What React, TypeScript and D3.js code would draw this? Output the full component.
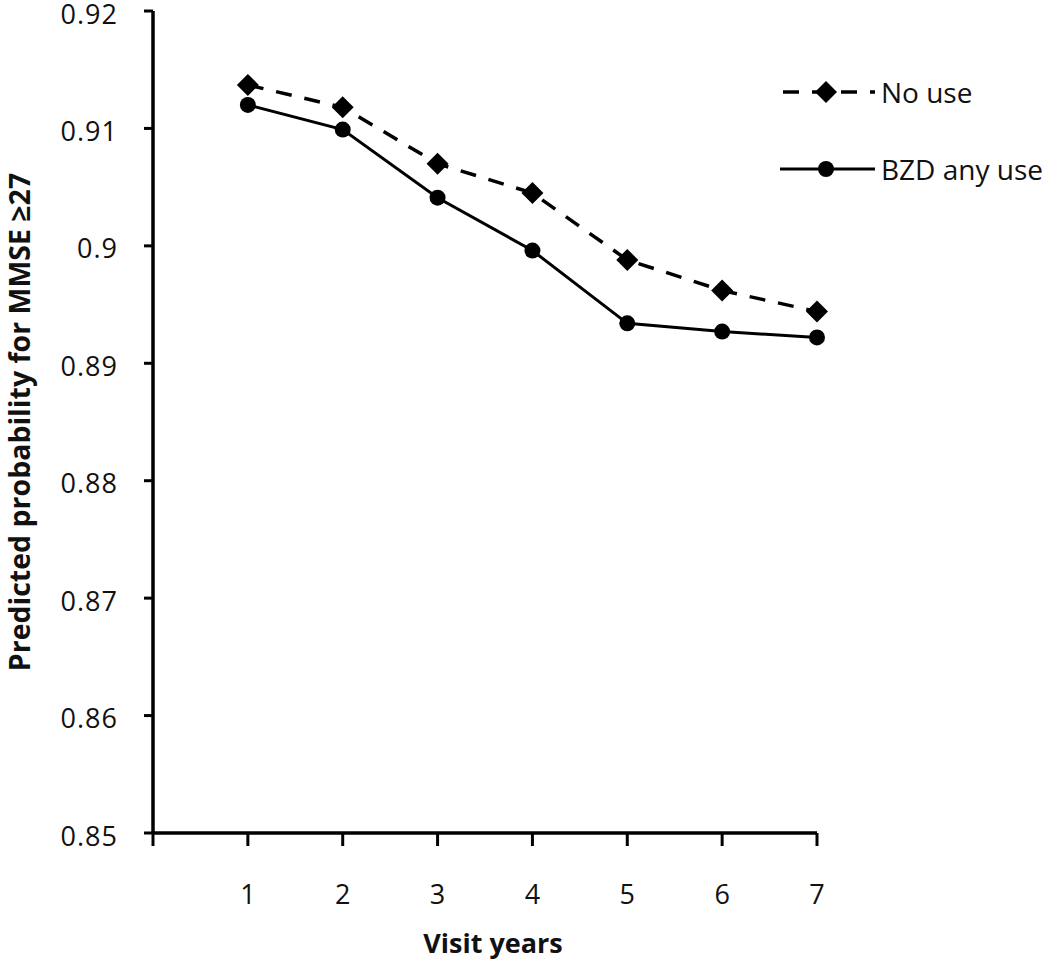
import React from "react";
import * as d3 from "d3";

const years = [1, 2, 3, 4, 5, 6, 7];
const noUse = [0.9137, 0.9118, 0.907, 0.9045, 0.8988, 0.8962, 0.8944];
const bzdAnyUse = [0.912, 0.9099, 0.9041, 0.8996, 0.8934, 0.8927, 0.8922];
const yTicks = [0.85, 0.86, 0.87, 0.88, 0.89, 0.9, 0.91, 0.92];
const yTickLabels = ["0.85", "0.86", "0.87", "0.88", "0.89", "0.9", "0.91", "0.92"];
const xTicks = [0, 1, 2, 3, 4, 5, 6, 7];
const seriesNames = ["No use", "BZD any use"];

const W = 1050;
const H = 963;
const FONT = "'Open Sans', 'Noto Sans', sans-serif";

export default function App() {
  const x = d3.scaleLinear().domain([0, 7]).range([153, 817]);
  const y = d3.scaleLinear().domain([0.85, 0.92]).range([833, 11]);
  const line = d3
    .line<number>()
    .x((_, i) => x(years[i]))
    .y((d) => y(d));

  const diamond = (cx: number, cy: number, r: number) =>
    `M${cx},${cy - r}L${cx + r},${cy}L${cx},${cy + r}L${cx - r},${cy}Z`;

  return (
    <svg
      width={W}
      height={H}
      style={{ position: "absolute", left: 0, top: 0, background: "#fff" }}
      fontFamily={FONT}
    >
      <rect width={W} height={H} fill="#fff" />
      {/* y axis */}
      <line x1={x(0)} x2={x(0)} y1={y(0.92)} y2={y(0.85)} stroke="#000" strokeWidth={3.5} />
      {yTicks.map((t, i) => (
        <g key={t}>
          <line x1={x(0) - 9} x2={x(0)} y1={y(t)} y2={y(t)} stroke="#000" strokeWidth={3} />
          <text
            x={118}
            y={y(t) + 2}
            textAnchor="end"
            dominantBaseline="central"
            fontSize={27}
            letterSpacing={1}
            fill="#111"
          >
            {yTickLabels[i]}
          </text>
        </g>
      ))}
      {/* x axis */}
      <line x1={x(0)} x2={x(7)} y1={y(0.85)} y2={y(0.85)} stroke="#000" strokeWidth={3.5} />
      {xTicks.map((t) => (
        <line key={t} x1={x(t)} x2={x(t)} y1={y(0.85)} y2={y(0.85) + 13} stroke="#000" strokeWidth={3} />
      ))}
      {years.map((t) => (
        <text key={t} x={x(t)} y={893} textAnchor="middle" dominantBaseline="central" fontSize={27} fill="#111">
          {t}
        </text>
      ))}
      <text x={493} y={942} textAnchor="middle" dominantBaseline="central" fontSize={27} fontWeight="bold" fill="#111">
        Visit years
      </text>
      <text
        transform={`translate(19,422) rotate(-90)`}
        textAnchor="middle"
        dominantBaseline="central"
        fontSize={28.5}
        fontWeight="bold"
        fill="#111"
      >
        Predicted probability for MMSE ≥27
      </text>

      {/* series */}
      <path d={line(noUse) || ""} fill="none" stroke="#000" strokeWidth={3.5} strokeDasharray="16 13" />
      <path d={line(bzdAnyUse) || ""} fill="none" stroke="#000" strokeWidth={3} />
      {noUse.map((v, i) => (
        <path key={"n" + i} d={diamond(x(years[i]), y(v), 11)} fill="#000" />
      ))}
      {bzdAnyUse.map((v, i) => (
        <circle key={"b" + i} cx={x(years[i])} cy={y(v)} r={8} fill="#000" />
      ))}

      {/* legend */}
      <line x1={780} x2={875} y1={92} y2={92} stroke="#000" strokeWidth={3.5} strokeDasharray="16 13" strokeDashoffset={-3} />
      <path d={diamond(826, 92, 11)} fill="#000" />
      <text x={881} y={92} dominantBaseline="central" fontSize={28} fill="#111">
        {seriesNames[0]}
      </text>
      <line x1={780} x2={875} y1={169} y2={169} stroke="#000" strokeWidth={3} />
      <circle cx={826} cy={169} r={8} fill="#000" />
      <text x={881} y={169} dominantBaseline="central" fontSize={28} fill="#111">
        {seriesNames[1]}
      </text>
    </svg>
  );
}
